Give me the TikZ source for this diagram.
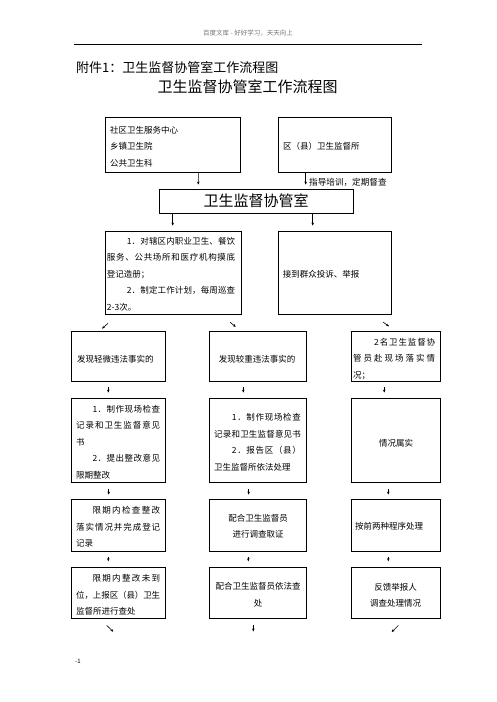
\documentclass[tikz,border=0pt]{standalone}
\usepackage{fontspec}
\setmainfont{Noto Sans CJK SC}
\usetikzlibrary{arrows.meta}
\def\jloop#1{#1\futurelet\jnext\jcheck}
\def\jcheck{\ifx\jnext\relax\expandafter\jgobble\else\hskip 0pt plus 1fil minus 1pt\expandafter\jloop\fi}
\def\jgobble#1{}
\newcommand\J[2]{\hbox to #1{\jloop#2\relax}}
\begin{document}
\begin{tikzpicture}[x=1pt,y=-1pt,
  box/.style={draw, line width=0.8pt, inner sep=0pt},
  txt/.style={inner sep=0pt, align=left, anchor=west, font=\fontsize{8.5}{16.5}\selectfont},
  ctxt/.style={inner sep=0pt, align=center, font=\fontsize{8.5}{16.5}\selectfont},
  arr/.style={line width=0.6pt, -{Stealth[length=3pt,width=2.6pt]}},
]
\useasboundingbox (0,0) rectangle (496,702);
% header
\node[font=\fontsize{6.5}{8}\selectfont, text=black!55] (hdr) at (248,33) {百度文库 - 好好学习，天天向上};
\coordinate (hl1) at (74,44);
\coordinate (hl2) at (422,44);
\draw[line width=0.8pt] (hl1) -- (hl2);
\node[anchor=west, inner sep=0pt, font=\fontsize{13}{15}\selectfont] (t1) at (76,67) {附件1：卫生监督协管室工作流程图};
\node[inner sep=0pt, font=\fontsize{15}{17}\selectfont] (t2) at (247.5,87) {卫生监督协管室工作流程图};
% row 1
\node[box, minimum width=135.7, minimum height=55] (b1l) at (172.9,144.5) {};
\node[txt] (b1lt) at (110,146.5) {社区卫生服务中心\\乡镇卫生院\\公共卫生科};
\node[box, minimum width=113, minimum height=55] (b1r) at (334.5,144.5) {};
\node[txt] (b1rt) at (283,146) {区（县）卫生监督所};
% middle box
\node[box, minimum width=194, minimum height=24, font=\fontsize{15}{17}\selectfont] (bm) at (256,201) {卫生监督协管室};
\node[txt, font=\fontsize{8.6}{10}\selectfont] (lbl) at (309,182) {指导培训，定期督查};
% row 2
\node[box, minimum width=136, minimum height=83] (b2l) at (173,272.5) {};
\node[txt] (b2lt) at (106.7,274) {\kern20pt\J{108.3pt}{1．对辖区内职业卫生、餐饮}\\
\J{128.3pt}{服务、公共场所和医疗机构摸底}\\
登记造册；\\
\kern20pt\J{108.3pt}{2．制定工作计划，每周巡查}\\
2-3次。};
\node[box, minimum width=113, minimum height=83] (b2r) at (334.5,272.5) {};
\node[txt] (b2rt) at (282.7,274) {接到群众投诉、举报};
% row 3
\node[box, minimum width=94, minimum height=50] (r3l) at (118.7,356) {};
\node[txt] (r3lt) at (77,359) {发现轻微违法事实的};
\node[box, minimum width=97.7, minimum height=50] (r3m) at (257.85,356) {};
\node[ctxt] (r3mt) at (257.2,359) {发现较重违法事实的};
\node[box, minimum width=89, minimum height=50] (r3r) at (396.2,356) {};
\node[txt] (r3rt) at (353,359) {\kern21pt\J{61pt}{2名卫生监督协}\\
\J{82pt}{管员赴现场落实情}\\
况；};
% row 4
\node[box, minimum width=94, minimum height=84] (r4l) at (118.7,440) {};
\node[txt] (r4lt) at (76,442) {\kern16.3pt\J{67.7pt}{1．制作现场检查}\\
\J{84pt}{记录和卫生监督意见}\\
书\\
\kern16.3pt\J{67.7pt}{2．提出整改意见}\\
限期整改};
\node[box, minimum width=97.7, minimum height=84] (r4m) at (257.85,440) {};
\node[txt] (r4mt) at (214,442) {\kern17.7pt\J{69pt}{1．制作现场检查}\\
\J{86.7pt}{记录和卫生监督意见书}\\
\kern17.7pt\J{69pt}{2．报告区（县）}\\
卫生监督所依法处理};
\node[box, minimum width=89, minimum height=84] (r4r) at (396.2,440) {};
\node[ctxt] (r4rt) at (396,443) {情况属实};
% row 5
\node[box, minimum width=94, minimum height=52] (r5l) at (118.7,525) {};
\node[txt] (r5lt) at (76,527) {\kern16.3pt\J{67.7pt}{限期内检查整改}\\
\J{84pt}{落实情况并完成登记}\\
记录};
\node[box, minimum width=97.7, minimum height=52] (r5m) at (257.85,525) {};
\node[ctxt] (r5mt) at (258,526.5) {配合卫生监督员\\进行调查取证};
\node[box, minimum width=89, minimum height=52] (r5r) at (396.2,525) {};
\node[txt] (r5rt) at (355,526) {按前两种程序处理};
% row 6
\node[box, minimum width=94, minimum height=51] (r6l) at (118.7,592.5) {};
\node[txt] (r6lt) at (76,595) {\kern16.3pt\J{67.7pt}{限期内整改未到}\\
\J{84pt}{位，上报区（县）卫生}\\
监督所进行查处};
\node[box, minimum width=97.7, minimum height=51] (r6m) at (257.85,592.5) {};
\node[ctxt] (r6mt) at (258,595) {配合卫生监督员依法查\\处};
\node[box, minimum width=89, minimum height=51] (r6r) at (396.2,592.5) {};
\node[ctxt] (r6rt) at (395.5,595) {反馈举报人\\调查处理情况};
% footer
\node[inner sep=0pt, font=\fontsize{6}{7}\selectfont] (pg) at (78,661) {-1};
% arrows
\draw[arr] ([xshift=25.4pt]b1l.south) -- ([xshift=-57.7pt,yshift=4pt]bm.north);
\draw[arr] ([xshift=-28.8pt]b1r.south) -- ([xshift=49.7pt,yshift=4pt]bm.north);
\draw[arr] ([xshift=-83.3pt]bm.south) -- ([xshift=-0.3pt,yshift=5pt]b2l.north);
\draw[arr] ([xshift=56.7pt]bm.south) -- ([xshift=-21.8pt,yshift=5pt]b2r.north);
\draw[arr] ([xshift=-65pt,yshift=-9pt]b2l.south) -- ([xshift=-16.7pt,yshift=2pt]r3l.north);
\draw[arr] ([xshift=57pt,yshift=-7.7pt]b2l.south) -- ([xshift=-22.15pt,yshift=3.7pt]r3m.north);
\draw[arr] ([xshift=48.5pt,yshift=-7.7pt]b2r.south) -- ([xshift=-7.2pt,yshift=4.3pt]r3r.north);
\draw[arr, shorten <=6pt, shorten >=5pt] ([xshift=-10.4pt]r3l.south) -- ([xshift=-10.4pt]r4l.north);
\draw[arr, shorten <=6pt, shorten >=5pt] ([xshift=-14.55pt]r3m.south) -- ([xshift=-14.55pt]r4m.north);
\draw[arr, shorten <=6pt, shorten >=5pt] ([xshift=-12pt]r3r.south) -- ([xshift=-12pt]r4r.north);
\draw[arr, shorten <=7pt, shorten >=4pt] ([xshift=-10pt]r4l.south) -- ([xshift=-10pt]r5l.north);
\draw[arr, shorten <=7pt, shorten >=4pt] ([xshift=-9.2pt]r4m.south) -- ([xshift=-9.2pt]r5m.north);
\draw[arr, shorten <=7pt, shorten >=4pt] ([xshift=-7.9pt]r4r.south) -- ([xshift=-7.9pt]r5r.north);
\draw[arr, shorten <=5.7pt, shorten >=5.3pt] ([xshift=-10.4pt]r5l.south) -- ([xshift=-10.4pt]r6l.north);
\draw[arr, shorten <=5.7pt, shorten >=5.3pt] ([xshift=-9.55pt]r5m.south) -- ([xshift=-9.55pt]r6m.north);
\draw[arr, shorten <=5.7pt, shorten >=5.3pt] ([xshift=-7.9pt]r5r.south) -- ([xshift=-7.9pt]r6r.north);
\coordinate (endL) at (113.3,631.7);
\coordinate (endM) at (253.3,631.5);
\coordinate (endR) at (391.7,632);
\draw[arr] ([xshift=-12pt,yshift=-7pt]r6l.south) -- (endL);
\draw[arr] ([xshift=-4.55pt,yshift=-7pt]r6m.south) -- (endM);
\draw[arr] ([xshift=2.1pt,yshift=-7pt]r6r.south) -- (endR);
\end{tikzpicture}
\end{document}
